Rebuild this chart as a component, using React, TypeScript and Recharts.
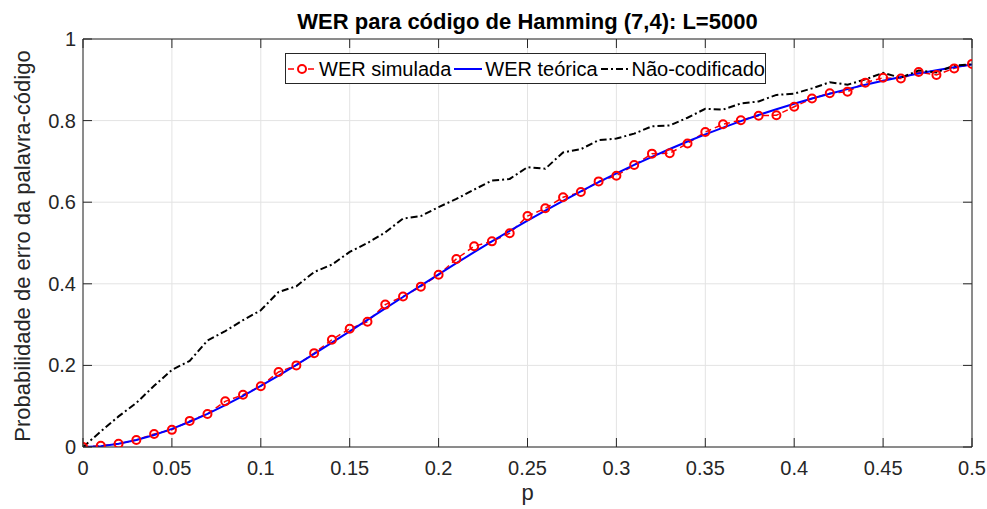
import React from 'react';
import { LineChart, Line, XAxis, YAxis, CartesianGrid, Legend } from 'recharts';

const pValues = [
  0, 0.01, 0.02, 0.03, 0.04, 0.05, 0.06, 0.07, 0.08, 0.09,
  0.1, 0.11, 0.12, 0.13, 0.14, 0.15, 0.16, 0.17, 0.18, 0.19,
  0.2, 0.21, 0.22, 0.23, 0.24, 0.25, 0.26, 0.27, 0.28, 0.29,
  0.3, 0.31, 0.32, 0.33, 0.34, 0.35, 0.36, 0.37, 0.38, 0.39,
  0.4, 0.41, 0.42, 0.43, 0.44, 0.45, 0.46, 0.47, 0.48, 0.49, 0.5,
];

const werSimulada = [
  0, 0.003, 0.008, 0.017, 0.032, 0.042, 0.064, 0.081, 0.112, 0.128,
  0.149, 0.184, 0.2, 0.23, 0.263, 0.29, 0.307, 0.349, 0.369, 0.393,
  0.422, 0.461, 0.492, 0.504, 0.524, 0.566, 0.585, 0.612, 0.625, 0.651,
  0.665, 0.691, 0.719, 0.72, 0.744, 0.772, 0.791, 0.801, 0.812, 0.813,
  0.834, 0.854, 0.867, 0.871, 0.893, 0.905, 0.903, 0.919, 0.912, 0.928, 0.939,
];

const werTeorica = [
  0, 0.002, 0.0079, 0.0171, 0.0294, 0.0444, 0.0618, 0.0813, 0.1026, 0.1255,
  0.1497, 0.175, 0.2012, 0.2281, 0.2556, 0.2834, 0.3115, 0.3396, 0.3677, 0.3956,
  0.4233, 0.4506, 0.4775, 0.504, 0.5298, 0.5551, 0.5796, 0.6035, 0.6266, 0.649,
  0.6706, 0.6914, 0.7113, 0.7304, 0.7487, 0.7662, 0.7828, 0.7987, 0.8137, 0.8279,
  0.8414, 0.854, 0.866, 0.8772, 0.8877, 0.8976, 0.9068, 0.9153, 0.9233, 0.9307, 0.9375,
];

const naoCodificado = [
  0, 0.038, 0.075, 0.108, 0.15, 0.189, 0.211, 0.261, 0.284, 0.311,
  0.335, 0.38, 0.394, 0.429, 0.447, 0.478, 0.5, 0.526, 0.56, 0.566,
  0.588, 0.608, 0.631, 0.653, 0.657, 0.686, 0.682, 0.722, 0.73, 0.752,
  0.756, 0.768, 0.786, 0.788, 0.807, 0.829, 0.827, 0.842, 0.847, 0.863,
  0.866, 0.879, 0.894, 0.888, 0.901, 0.917, 0.905, 0.923, 0.918, 0.935, 0.938,
];

const xTicks = [0, 0.05, 0.1, 0.15, 0.2, 0.25, 0.3, 0.35, 0.4, 0.45, 0.5];
const yTicks = [0, 0.2, 0.4, 0.6, 0.8, 1];

const titleText = 'WER para código de Hamming (7,4): L=5000';
const xLabelText = 'p';
const yLabelText = 'Probabilidade de erro da palavra-código';
const seriesNames = ['WER simulada', 'WER teórica', 'Não-codificado'];

const data = pValues.map((p, i) => ({
  p,
  sim: werSimulada[i],
  teo: werTeorica[i],
  unc: naoCodificado[i],
}));

const FONT = '"Liberation Sans", Arial, Helvetica, sans-serif';
const AX = '#262626';
const TL = 9;
const RED = '#ff0000';
const BLUE = '#0000ff';
const BLACK = '#000000';

// plot box
const PL = 83;
const PT = 39;
const PR = 972;
const PB = 447;

const BottomTick = (props: any) => {
  const { x, payload } = props;
  return (
    <g>
      <line x1={x} x2={x} y1={PB} y2={PB - TL} stroke={AX} strokeWidth={1} />
      <text x={x} y={PB + 28} textAnchor="middle" fill={AX} fontSize={20} fontFamily={FONT}>
        {String(payload.value)}
      </text>
    </g>
  );
};

const TopTick = (props: any) => {
  const { x } = props;
  return <line x1={x} x2={x} y1={PT} y2={PT + TL} stroke={AX} strokeWidth={1} />;
};

const LeftTick = (props: any) => {
  const { y, payload } = props;
  return (
    <g>
      <line x1={PL} x2={PL + TL} y1={y} y2={y} stroke={AX} strokeWidth={1} />
      <text x={PL - 7} y={y + 7} textAnchor="end" fill={AX} fontSize={20} fontFamily={FONT}>
        {String(payload.value)}
      </text>
    </g>
  );
};

const RightTick = (props: any) => {
  const { y } = props;
  return <line x1={PR} x2={PR - TL} y1={y} y2={y} stroke={AX} strokeWidth={1} />;
};

const SimDot = (props: any) => {
  const { cx, cy, index } = props;
  if (cx == null || cy == null) return <g key={`d${index}`} />;
  return (
    <circle key={`d${index}`} cx={cx} cy={cy} r={4} fill="none" stroke={RED} strokeWidth={2} />
  );
};

const YLabel = () => {
  const cx = 22;
  const cy = (PT + PB) / 2 + 3;
  return (
    <text
      x={cx}
      y={cy}
      transform={`rotate(-90 ${cx} ${cy})`}
      textAnchor="middle"
      dominantBaseline="central"
      fill={AX}
      fontSize={22}
      fontFamily={FONT}
    >
      {yLabelText}
    </text>
  );
};

const XLabel = () => (
  <text x={(PL + PR) / 2} y={PB + 53} textAnchor="middle" fill={AX} fontSize={22} fontFamily={FONT}>
    {xLabelText}
  </text>
);

const TitleLabel = () => (
  <text x={(PL + PR) / 2} y={PT - 10} textAnchor="middle" fill={BLACK} fontSize={22} fontWeight="bold" fontFamily={FONT}>
    {titleText}
  </text>
);

const LegendIcon = ({ kind }: { kind: number }) => {
  if (kind === 0) {
    return (
      <svg width={28} height={12} style={{ display: 'block' }}>
        <line x1={0} x2={28} y1={6} y2={6} stroke={RED} strokeWidth={1.5} strokeDasharray="6 4" />
        <circle cx={14} cy={6} r={4} fill="white" stroke={RED} strokeWidth={2} />
      </svg>
    );
  }
  if (kind === 1) {
    return (
      <svg width={28} height={12} style={{ display: 'block' }}>
        <line x1={0} x2={28} y1={6} y2={6} stroke={BLUE} strokeWidth={2} />
      </svg>
    );
  }
  return (
    <svg width={28} height={12} style={{ display: 'block' }}>
      <line x1={0} x2={28} y1={6} y2={6} stroke={BLACK} strokeWidth={2} strokeDasharray="7 3 2 3" />
    </svg>
  );
};

const LegendContent = () => (
  <div
    style={{
      boxSizing: 'border-box',
      width: 481,
      height: 31,
      border: `1px solid ${AX}`,
      background: 'white',
      display: 'flex',
      alignItems: 'center',
      paddingLeft: 2,
      fontFamily: FONT,
      fontSize: 20,
      color: BLACK,
      whiteSpace: 'nowrap',
    }}
  >
    {seriesNames.map((name, i) => (
      <div key={name} style={{ display: 'flex', alignItems: 'center', marginRight: 3 }}>
        <LegendIcon kind={i} />
        <span style={{ marginLeft: 3, lineHeight: '20px' }}>{name}</span>
      </div>
    ))}
  </div>
);

export default function App() {
  return (
    <div style={{ position: 'absolute', left: 0, top: 0, width: 987, height: 509, background: 'white' }}>
      <LineChart
        width={987}
        height={509}
        data={data}
        margin={{ top: PT - 10, right: 987 - PR - 10, bottom: 509 - PB - 30, left: PL - 40 }}
      >
        <CartesianGrid stroke="#e3e3e3" strokeWidth={1} />
        <XAxis
          dataKey="p"
          type="number"
          domain={[0, 0.5]}
          ticks={xTicks}
          allowDataOverflow
          height={30}
          tickSize={0}
          tickMargin={0}
          tickLine={false}
          tick={<BottomTick />}
          axisLine={{ stroke: AX, strokeWidth: 1 }}
          interval={0}
          label={<XLabel />}
        />
        <XAxis
          xAxisId="top"
          orientation="top"
          dataKey="p"
          type="number"
          domain={[0, 0.5]}
          ticks={xTicks}
          allowDataOverflow
          height={10}
          tickSize={0}
          tickMargin={0}
          tickLine={false}
          tick={<TopTick />}
          axisLine={{ stroke: AX, strokeWidth: 1 }}
          interval={0}
          label={<TitleLabel />}
        />
        <YAxis
          type="number"
          domain={[0, 1]}
          ticks={yTicks}
          allowDataOverflow
          width={40}
          tickSize={0}
          tickMargin={0}
          tickLine={false}
          tick={<LeftTick />}
          axisLine={{ stroke: AX, strokeWidth: 1 }}
          interval={0}
          label={<YLabel />}
        />
        <YAxis
          yAxisId="right"
          orientation="right"
          type="number"
          domain={[0, 1]}
          ticks={yTicks}
          allowDataOverflow
          width={10}
          tickSize={0}
          tickMargin={0}
          tickLine={false}
          tick={<RightTick />}
          axisLine={{ stroke: AX, strokeWidth: 1 }}
          interval={0}
        />
        <Legend
          layout="horizontal"
          verticalAlign="middle"
          align="center"
          wrapperStyle={{ position: 'absolute', left: 285, top: 53, width: 481, height: 31 }}
          content={<LegendContent />}
        />
        <Line
          type="linear"
          dataKey="sim"
          name={seriesNames[0]}
          stroke={RED}
          strokeWidth={1.5}
          strokeDasharray="6 4"
          dot={SimDot}
          activeDot={false}
          isAnimationActive={false}
        />
        <Line
          type="linear"
          dataKey="teo"
          name={seriesNames[1]}
          stroke={BLUE}
          strokeWidth={2}
          dot={false}
          activeDot={false}
          isAnimationActive={false}
        />
        <Line
          type="linear"
          dataKey="unc"
          name={seriesNames[2]}
          stroke={BLACK}
          strokeWidth={2}
          strokeDasharray="7 3 2 3"
          dot={false}
          activeDot={false}
          isAnimationActive={false}
        />
      </LineChart>
    </div>
  );
}
